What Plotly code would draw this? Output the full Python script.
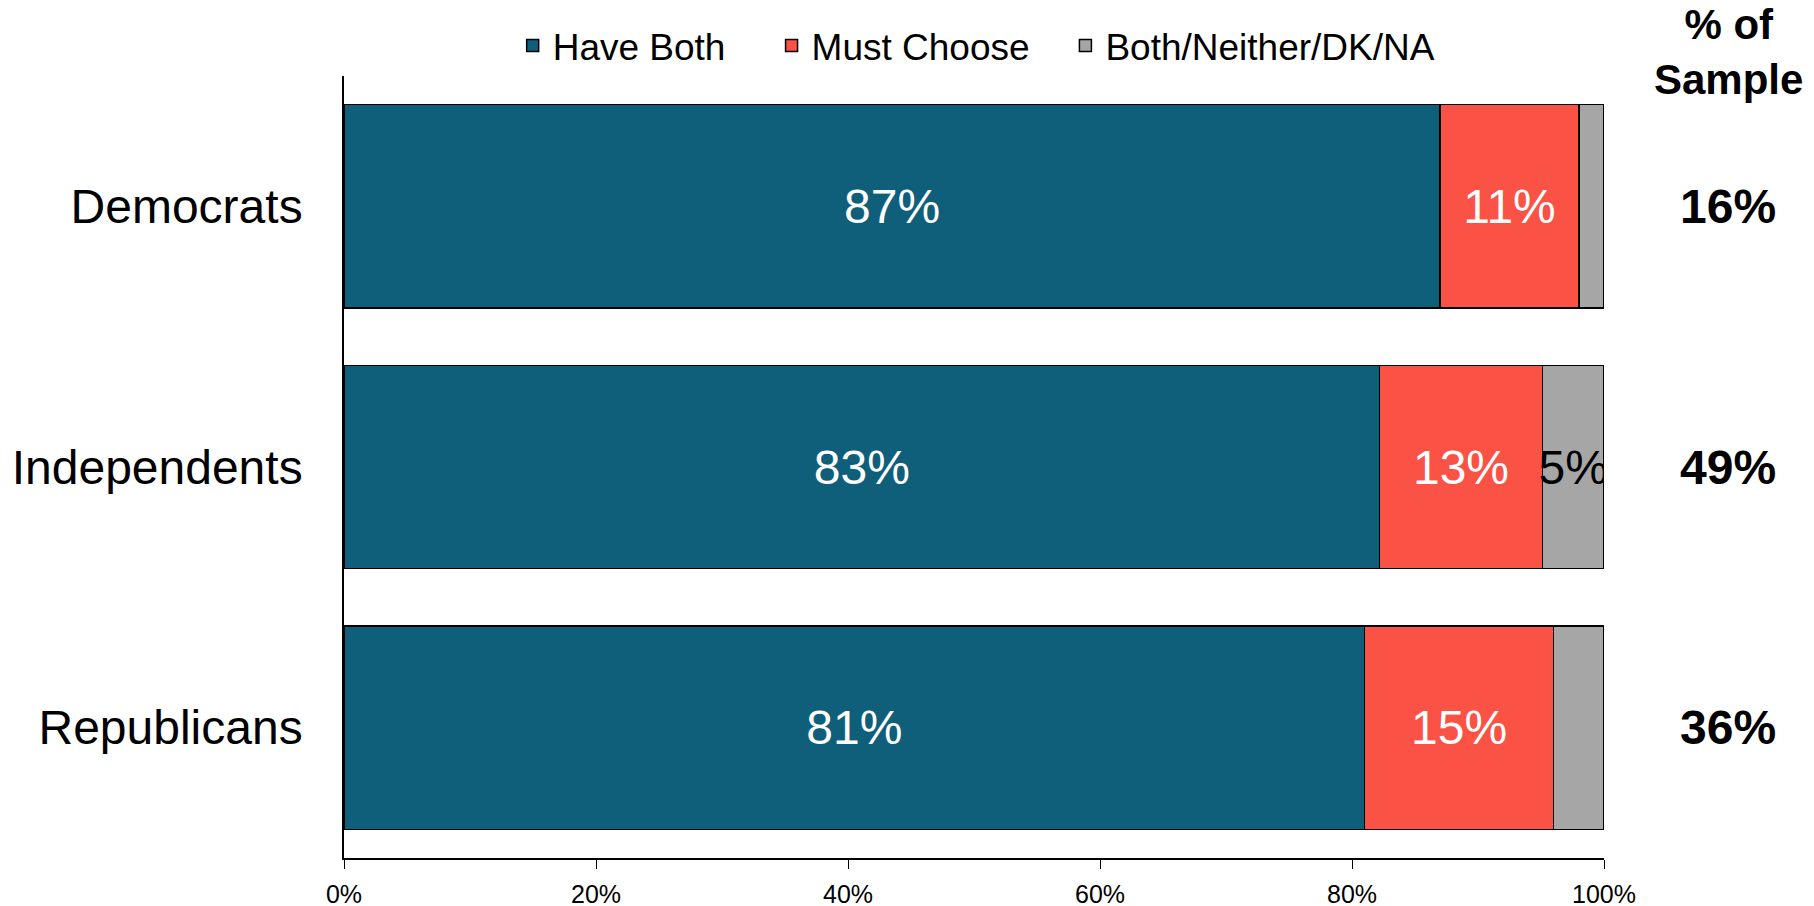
import plotly.graph_objects as go

# données
groups = ["Democrats", "Independents", "Republicans"]
have_both = [87, 82.2, 81]
must_choose = [11, 12.9, 15]
other = [2, 4.9, 4]
have_both_lbl = ["87%", "83%", "81%"]
must_choose_lbl = ["11%", "13%", "15%"]
other_lbl = ["", "5%", ""]
sample_share = ["16%", "49%", "36%"]
x_ticks = [0, 20, 40, 60, 80, 100]
x_tick_text = ["0%", "20%", "40%", "60%", "80%", "100%"]

font = "Arial, Liberation Sans, sans-serif"
edge = dict(color="black", width=1.5)
pad = "\u00a0\u00a0\u00a0"  # espace entre les entrées de légende

fig = go.Figure()
series = [
    ("Have Both" + pad + "\u00a0", have_both, have_both_lbl, "#0F5E7A", "white"),
    ("Must Choose" + pad, must_choose, must_choose_lbl, "#FA5245", "white"),
    ("Both/Neither/DK/NA", other, other_lbl, "#A6A6A6", "black"),
]
for name, vals, lbl, col, tcol in series:
    fig.add_trace(go.Bar(
        y=groups, x=vals, name=name, orientation="h",
        marker=dict(color=col, line=edge),
        text=lbl, textposition="inside", insidetextanchor="middle",
        constraintext="none", textangle=0,
        textfont=dict(family=font, size=48, color=tcol),
        hoverinfo="skip",
    ))

# colonne "% of Sample" à droite
fig.add_annotation(x=1.0985, y=1.031, xref="paper", yref="paper",
                   text="<b>% of<br>Sample</b>", showarrow=False,
                   xanchor="center", yanchor="middle",
                   font=dict(family=font, size=42, color="black"))
for g, s in zip(groups, sample_share):
    fig.add_annotation(x=1.0985, y=g, xref="paper", yref="y",
                       text="<b>" + s + "</b>", showarrow=False,
                       xanchor="center",
                       font=dict(family=font, size=48, color="black"))

fig.update_layout(
    barmode="stack",
    bargap=0.22,
    width=1814, height=906,
    margin=dict(l=336, r=218, t=68, b=56, autoexpand=False),
    plot_bgcolor="white", paper_bgcolor="white",
    font=dict(family=font, color="black"),
    legend=dict(orientation="h", x=0.534, xanchor="center", xref="container",
                y=0.958, yanchor="middle", yref="container",
                font=dict(family=font, size=37), traceorder="normal",
                itemwidth=30),
    xaxis=dict(range=[0, 100], tickvals=x_ticks, ticktext=x_tick_text,
               showgrid=False, zeroline=False, showline=True, linecolor="black",
               linewidth=1.5, ticks="outside", ticklen=9, tickcolor="black",
               ticklabelstandoff=4, automargin=False,
               tickfont=dict(family=font, size=25)),
    yaxis=dict(autorange="reversed", showgrid=False, zeroline=False,
               showline=True, linecolor="black", linewidth=1.5, ticks="",
               ticklabelstandoff=30, automargin=False,
               tickfont=dict(family=font, size=48)),
    showlegend=True,
)

fig.write_html("out.html")
